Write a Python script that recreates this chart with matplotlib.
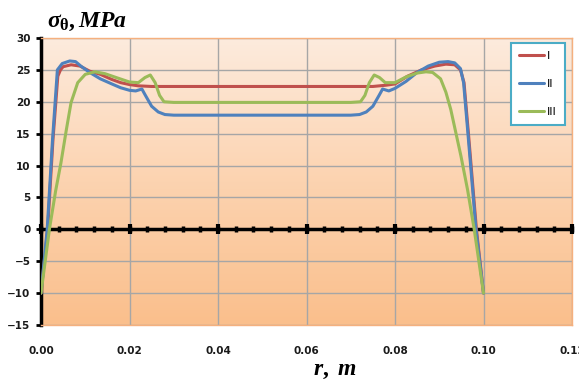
import numpy as np
import matplotlib
matplotlib.use("Agg")
import matplotlib.pyplot as plt
from matplotlib.colors import LinearSegmentedColormap

# radius (m) and hoop stress (MPa)
r_I = [0, 0.0015, 0.0027, 0.0038, 0.0044, 0.005, 0.0068, 0.0088, 0.011, 0.0134, 0.016, 0.018,
       0.020, 0.022, 0.025, 0.050, 0.075, 0.078, 0.080, 0.0828, 0.086, 0.089, 0.0915, 0.0935,
       0.0948, 0.0956, 0.0966, 0.0984, 0.1]
s_I = [-10, 0, 14, 24, 25.0, 25.5, 25.8, 25.6, 24.8, 24.3, 23.5, 23.0,
       22.7, 22.5, 22.4, 22.4, 22.4, 22.6, 22.8, 24.0, 25.0, 25.6, 25.9, 25.8,
       25.0, 23.0, 15.0, 0, -10]

r_II = [0, 0.0014, 0.0026, 0.0037, 0.0048, 0.0065, 0.0078, 0.009, 0.011, 0.0134, 0.016, 0.018,
        0.020, 0.0214, 0.0228, 0.0236, 0.025, 0.0265, 0.028, 0.030, 0.050, 0.070, 0.072, 0.0735,
        0.075, 0.0764, 0.0772, 0.0786, 0.080, 0.0825, 0.085, 0.0875, 0.090, 0.092, 0.0935, 0.0948,
        0.0955, 0.0964, 0.0983, 0.1]
s_II = [-10, 0, 14, 25, 26.0, 26.4, 26.3, 25.6, 24.6, 23.6, 22.8, 22.2,
        21.8, 21.7, 22.0, 21.0, 19.3, 18.4, 18.0, 17.9, 17.9, 17.9, 18.0, 18.4,
        19.3, 21.0, 22.0, 21.7, 22.1, 23.2, 24.6, 25.6, 26.2, 26.3, 26.1, 25.2,
        23.0, 15.7, 0, -10]

r_III = [0, 0.0019, 0.0033, 0.0045, 0.0057, 0.0068, 0.0083, 0.010, 0.0122, 0.0145, 0.017, 0.020,
         0.022, 0.0235, 0.0247, 0.0258, 0.0268, 0.0278, 0.030, 0.050, 0.070, 0.0722, 0.0732, 0.0742,
         0.0753, 0.0765, 0.0778, 0.080, 0.0825, 0.085, 0.087, 0.0885, 0.0903, 0.0915, 0.0926, 0.0949,
         0.0964, 0.0979, 0.1]
s_III = [-10, 0, 6, 10.4, 15.5, 19.9, 23.0, 24.3, 24.7, 24.4, 23.8, 23.1,
         23.0, 23.8, 24.2, 23.0, 21.0, 20.0, 19.9, 19.9, 19.9, 20.0, 21.0, 23.0,
         24.2, 23.8, 23.0, 23.0, 23.9, 24.5, 24.7, 24.6, 23.6, 21.5, 18.8, 11.5,
         6.2, 0, -10]

x_ticks = [0.00, 0.02, 0.04, 0.06, 0.08, 0.10, 0.12]
y_ticks = [-15, -10, -5, 0, 5, 10, 15, 20, 25, 30]
labels = ["I", "II", "III"]
colors = ["#C0504D", "#4F81BD", "#9BBB59"]

plt.rcParams["mathtext.fontset"] = "custom"
plt.rcParams["mathtext.it"] = "Liberation Serif:bold:italic"
plt.rcParams["mathtext.rm"] = "Liberation Serif:bold"

fig = plt.figure(figsize=(5.79, 3.80), dpi=100)
ax = fig.add_axes([41/579, 1-325/380, 531/579, 287/380])

# gradient plot area
cmap = LinearSegmentedColormap.from_list("bg", ["#FDEBDD", "#FCD3B0", "#FABF8C"])
ax.imshow(np.linspace(0, 1, 256).reshape(-1, 1), extent=[0, 0.12, -15, 30],
          aspect="auto", cmap=cmap, origin="upper", zorder=-2)

ax.set_xlim(0, 0.12)
ax.set_ylim(-15, 30)
ax.set_xticks(x_ticks)
ax.set_xticklabels([f"{t:.2f}" for t in x_ticks])
ax.set_yticks(y_ticks)
ax.grid(True, color="#A6A6A6", lw=1.0, zorder=0)
ax.set_axisbelow(True)

for key in ["top", "right", "bottom"]:
    ax.spines[key].set_color("#F5B07E")
    ax.spines[key].set_linewidth(1.0)
ax.spines["left"].set_color("black")
ax.spines["left"].set_linewidth(2.5)

ax.tick_params(axis="x", length=0, pad=15, labelsize=7.5, labelcolor="#1a1a1a")
ax.tick_params(axis="y", direction="out", length=3.5, width=2, color="black",
               pad=4, labelsize=7.5, labelcolor="#1a1a1a")
for lab in ax.get_xticklabels() + ax.get_yticklabels():
    lab.set_fontweight("bold")

# zero axis with tick marks
ax.axhline(0, color="black", lw=2.5, zorder=3)
minor = np.arange(0, 0.1201, 0.004)
ax.plot(minor, np.zeros(len(minor)), ls="none", marker="|", ms=4.5, mew=2.5,
        color="black", zorder=3, clip_on=False)
ax.plot(x_ticks, np.zeros(len(x_ticks)), ls="none", marker="|", ms=7, mew=3,
        color="black", zorder=3, clip_on=False)

for r, s, lab, c in zip([r_I, r_II, r_III], [s_I, s_II, s_III], labels, colors):
    ax.plot(r, s, color=c, lw=2.2, label=lab, zorder=4, solid_capstyle="round")

leg = ax.legend(loc="upper right", bbox_to_anchor=(565/579, 1-43/380),
                bbox_transform=fig.transFigure, borderaxespad=0, fontsize=8,
                handlelength=2.25, labelspacing=1.6, borderpad=0.75,
                handletextpad=0.25, fancybox=False, framealpha=1)
leg.get_frame().set_edgecolor("#4BACC6")
leg.get_frame().set_linewidth(1.5)

fig.text(47/579, 1-27/380, r"$\sigma_{\mathrm{\theta}},MPa$", fontsize=17,
         ha="left", va="baseline", color="black")
fig.text(335/579, 1-375/380, r"$r,\ m$", fontsize=17, ha="center",
         va="baseline", color="black")

fig.savefig("out.png", dpi=100)
